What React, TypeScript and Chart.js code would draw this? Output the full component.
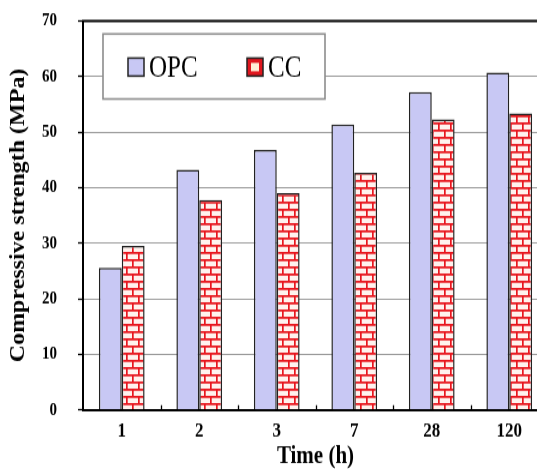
import React, { useEffect, useRef } from 'react';
import { Chart, registerables } from 'chart.js';

Chart.register(...registerables);

const timeLabels = ['1', '2', '3', '7', '28', '120'];
const opcStrength = [25.6, 43.2, 46.8, 51.4, 57.2, 60.7];
const ccStrength = [29.5, 37.8, 39.0, 42.7, 52.3, 53.4];
const seriesNames = ['OPC', 'CC'];
const yMin = 0;
const yMax = 70;
const yStep = 10;
const xTitle = 'Time (h)';
const yTitle = 'Compressive strength (MPa)';

const CW = 550;
const CH = 391;
const SY = 469 / CH;
const SERIF = '"Liberation Serif", "Times New Roman", serif';

function makeBrick(): CanvasPattern | string {
  const c = document.createElement('canvas');
  c.width = 12;
  c.height = 12;
  const g = c.getContext('2d');
  if (!g) return '#f4c0c0';
  g.fillStyle = '#fff2ee';
  g.fillRect(0, 0, 12, 12);
  g.strokeStyle = '#e8161e';
  g.lineWidth = 1.7;
  g.beginPath();
  g.moveTo(0, 0.85); g.lineTo(12, 0.85);
  g.moveTo(0, 6.85); g.lineTo(12, 6.85);
  g.moveTo(0.85, 0); g.lineTo(0.85, 6.85);
  g.moveTo(6.85, 6.85); g.lineTo(6.85, 12);
  g.stroke();
  return g.createPattern(c, 'repeat') || '#f4c0c0';
}

export default function App() {
  const ref = useRef<HTMLCanvasElement | null>(null);

  useEffect(() => {
    const canvas = ref.current;
    if (!canvas) return;
    const brick = makeBrick();

    const framePlugin = {
      id: 'frame',
      afterDatasetsDraw(chart: any) {
        const { ctx, chartArea } = chart;
        const { left, right, top, bottom } = chartArea;
        const xs = chart.scales.x;
        ctx.save();
        ctx.strokeStyle = '#000';
        ctx.lineWidth = 2;
        ctx.beginPath();
        ctx.moveTo(left - 1, top);
        ctx.lineTo(right, top);
        ctx.stroke();
        ctx.lineWidth = 1.3;
        ctx.beginPath();
        const n = chart.data.labels.length;
        for (let i = 1; i < n; i++) {
          const x = Math.round(xs.getPixelForValue(i - 0.5)) + 0.5;
          ctx.moveTo(x, bottom);
          ctx.lineTo(x, bottom - 4);
        }
        ctx.stroke();

        // legend box
        const bx = 103, by = 28.3, bw = 222, bh = 54.2;
        ctx.fillStyle = '#fff';
        ctx.fillRect(bx, by, bw, bh);
        ctx.strokeStyle = '#8c8c8c';
        ctx.lineWidth = 1.6;
        ctx.strokeRect(bx, by, bw, bh);

        const sy = 48.4, sh = 15;
        // OPC swatch
        ctx.fillStyle = '#c8c8f4';
        ctx.fillRect(128, sy, 16, sh);
        ctx.strokeStyle = '#222';
        ctx.lineWidth = 1.5;
        ctx.strokeRect(128, sy, 16, sh);
        // CC swatch
        ctx.fillStyle = '#e0161e';
        ctx.fillRect(247, sy, 16, sh);
        ctx.fillStyle = '#fff0d8';
        ctx.fillRect(251, sy + 4, 8, sh - 8);
        ctx.strokeStyle = '#222';
        ctx.strokeRect(247, sy, 16, sh);

        ctx.fillStyle = '#000';
        ctx.font = '25px ' + SERIF;
        ctx.textBaseline = 'middle';
        ctx.textAlign = 'left';
        ctx.fillText(seriesNames[0], 149, 57);
        ctx.fillText(seriesNames[1], 268, 57);
        ctx.restore();
      },
    };

    const chart = new Chart(canvas, {
      type: 'bar',
      data: {
        labels: timeLabels,
        datasets: [
          {
            label: seriesNames[0],
            data: opcStrength,
            backgroundColor: '#c8c8f4',
            borderColor: '#222',
            borderWidth: 1.5,
            categoryPercentage: 0.59,
            barPercentage: 1,
          },
          {
            label: seriesNames[1],
            data: ccStrength,
            backgroundColor: brick as any,
            borderColor: '#222',
            borderWidth: 1.5,
            categoryPercentage: 0.59,
            barPercentage: 1,
          },
        ],
      },
      options: {
        responsive: false,
        animation: false,
        devicePixelRatio: 1,
        layout: { padding: { top: 17.5, right: 2, left: 0, bottom: 0 } },
        plugins: {
          legend: { display: false },
          tooltip: { enabled: false },
        },
        scales: {
          x: {
            grid: { display: false, drawTicks: false },
            border: { display: true, color: '#000', width: 2 },
            ticks: {
              color: '#000',
              font: { family: SERIF, size: 17, weight: 'bold' },
              padding: 8,
              maxRotation: 0,
            },
            title: {
              display: true,
              text: xTitle,
              color: '#000',
              font: { family: SERIF, size: 21, weight: 'bold', lineHeight: 1 },
              padding: { top: 0, bottom: 0 },
            },
            afterFit(s: any) {
              s.height = 49.3;
              s.paddingLeft = 0;
              s.paddingRight = 0;
            },
          },
          y: {
            min: yMin,
            max: yMax,
            ticks: {
              stepSize: yStep,
              color: '#000',
              font: { family: SERIF, size: 15, weight: 'bold' },
              padding: 21,
            },
            grid: {
              color: '#9a9a9a',
              lineWidth: 1,
              tickColor: '#000',
              tickLength: 5,
              tickWidth: 1.3,
            },
            border: { color: '#000', width: 2 },
            title: {
              display: true,
              text: yTitle,
              color: '#000',
              font: { family: SERIF, size: 20, weight: 'bold', lineHeight: 1 },
              padding: { top: 9, bottom: 0 },
            },
            afterFit(s: any) {
              s.width = 83;
              s.paddingTop = 0;
              s.paddingBottom = 0;
            },
          },
        },
      } as any,
      plugins: [framePlugin],
    });

    return () => chart.destroy();
  }, []);

  return (
    <div
      style={{
        position: 'absolute',
        left: 0,
        top: 0,
        width: 537,
        height: 469,
        overflow: 'hidden',
        background: '#fff',
      }}
    >
      <canvas
        ref={ref}
        width={CW}
        height={CH}
        style={{
          display: 'block',
          transform: `scaleY(${SY})`,
          transformOrigin: '0 0',
        }}
      />
    </div>
  );
}
